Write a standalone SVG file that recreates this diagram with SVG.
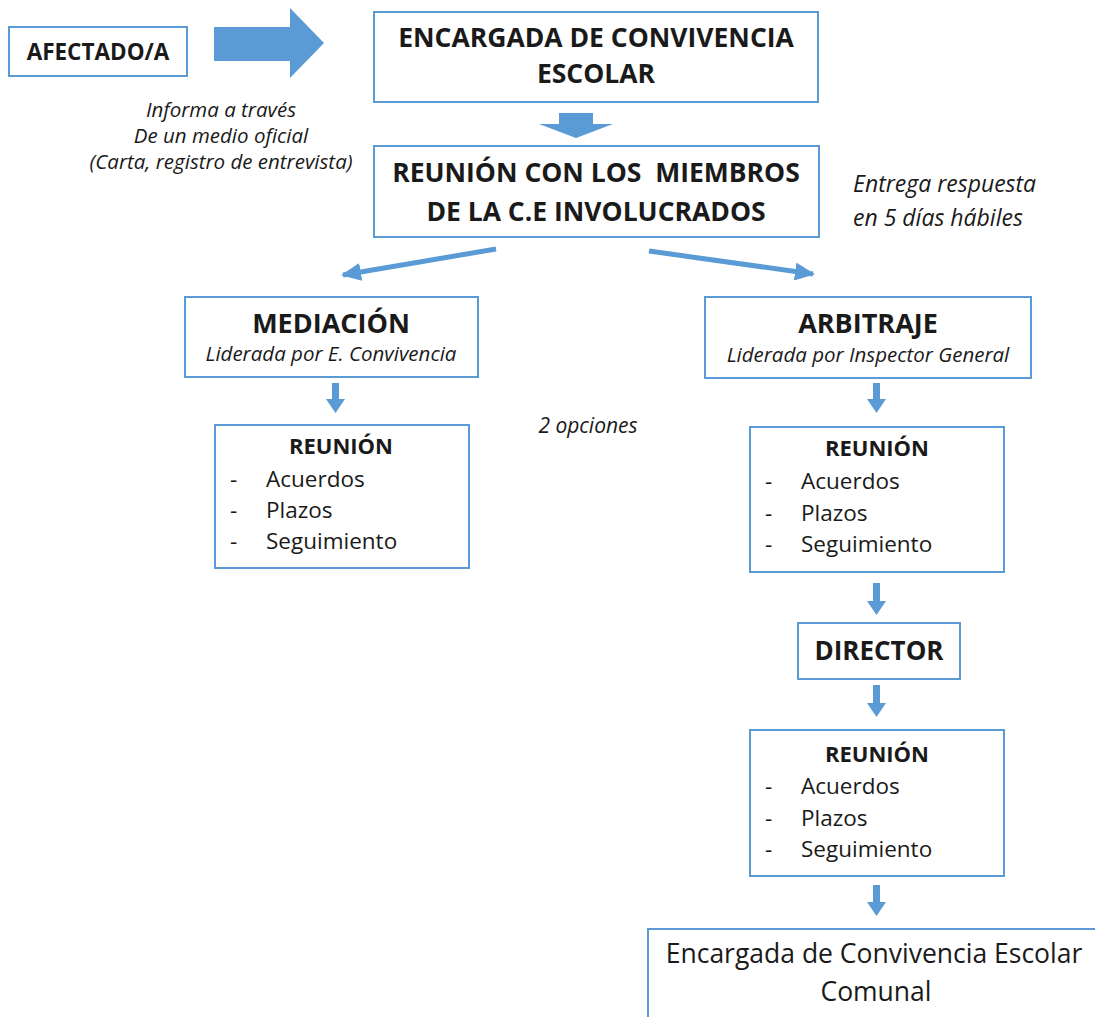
<svg xmlns="http://www.w3.org/2000/svg" width="1095" height="1017" viewBox="0 0 1095 1017">
<style>
.box{fill:#fff;stroke:#5b9bd5;stroke-width:2}
.t{font-family:"Open Sans","Noto Sans","Liberation Sans",sans-serif;fill:#1a1a1a}
.b{font-weight:bold}
.i{font-style:italic}
.c{text-anchor:middle}
.it{font-size:22.5px}
.arr{fill:#5b9bd5}
.ln{stroke:#5b9bd5;stroke-width:5;fill:none}
</style>
<defs>
<marker id="ah" markerUnits="userSpaceOnUse" markerWidth="22" markerHeight="18" refX="18" refY="9" orient="auto">
<path d="M0,0 L20,9 L0,18 Z" fill="#5b9bd5"/>
</marker>
</defs>
<rect width="1095" height="1017" fill="#fff"/>
<g id="afectado">
<rect class="box" x="9" y="27" width="178" height="49"/>
<text class="t b c" x="98" y="60" font-size="22.5">AFECTADO/A</text>
</g>
<g id="informa">
<text class="t i c" x="221" y="117" font-size="20.5">Informa a través</text>
<text class="t i c" x="221" y="143" font-size="20.5">De un medio oficial</text>
<text class="t i c" x="221" y="169" font-size="20.5">(Carta, registro de entrevista)</text>
</g>
<g id="encargada">
<rect class="box" x="374" y="12" width="444" height="90"/>
<text class="t b c" x="596" y="47" font-size="26.5">ENCARGADA DE CONVIVENCIA</text>
<text class="t b c" x="596" y="83" font-size="26.5">ESCOLAR</text>
</g>
<g id="reunion-ce">
<rect class="box" x="374" y="146" width="445" height="91"/>
<text class="t b c" x="596" y="182" font-size="26.5" xml:space="preserve" style="white-space:pre">REUNIÓN CON LOS  MIEMBROS</text>
<text class="t b c" x="596" y="221" font-size="26.5">DE LA C.E INVOLUCRADOS</text>
</g>
<g id="entrega">
<text class="t i" x="853" y="192" font-size="23">Entrega respuesta</text>
<text class="t i" x="853" y="226" font-size="23">en 5 días hábiles</text>
</g>
<g id="mediacion">
<rect class="box" x="185" y="297" width="293" height="80"/>
<text class="t b c" x="331" y="333" font-size="27">MEDIACIÓN</text>
<text class="t i c" x="331" y="361" font-size="20.5">Liderada por E. Convivencia</text>
</g>
<g id="arbitraje">
<rect class="box" x="705" y="297" width="326" height="81"/>
<text class="t b c" x="868" y="333" font-size="27">ARBITRAJE</text>
<text class="t i c" x="868" y="362" font-size="20.5">Liderada por Inspector General</text>
</g>
<g id="opciones">
<text class="t i c" x="588" y="433" font-size="21">2 opciones</text>
</g>
<g id="reunion-med">
<rect class="box" x="215" y="425" width="254" height="143"/>
<text class="t b c" x="341" y="454" font-size="22">REUNIÓN</text>
<text class="t" x="230" y="487" font-size="22.5">-</text>
<text class="t" x="266" y="487" font-size="22.5">Acuerdos</text>
<text class="t" x="230" y="518" font-size="22.5">-</text>
<text class="t" x="266" y="518" font-size="22.5">Plazos</text>
<text class="t" x="230" y="549" font-size="22.5">-</text>
<text class="t" x="266" y="549" font-size="22.5">Seguimiento</text>
</g>
<g id="reunion-arb">
<rect class="box" x="750" y="427" width="254" height="145"/>
<text class="t b c" x="877" y="456" font-size="22">REUNIÓN</text>
<text class="t" x="765" y="489" font-size="22.5">-</text>
<text class="t" x="801" y="489" font-size="22.5">Acuerdos</text>
<text class="t" x="765" y="521" font-size="22.5">-</text>
<text class="t" x="801" y="521" font-size="22.5">Plazos</text>
<text class="t" x="765" y="552" font-size="22.5">-</text>
<text class="t" x="801" y="552" font-size="22.5">Seguimiento</text>
</g>
<g id="director">
<rect class="box" x="798" y="623" width="162" height="56"/>
<text class="t b c" x="879" y="660" font-size="26">DIRECTOR</text>
</g>
<g id="reunion-dir">
<rect class="box" x="750" y="730" width="254" height="146"/>
<text class="t b c" x="877" y="762" font-size="22">REUNIÓN</text>
<text class="t" x="765" y="794" font-size="22.5">-</text>
<text class="t" x="801" y="794" font-size="22.5">Acuerdos</text>
<text class="t" x="765" y="826" font-size="22.5">-</text>
<text class="t" x="801" y="826" font-size="22.5">Plazos</text>
<text class="t" x="765" y="857" font-size="22.5">-</text>
<text class="t" x="801" y="857" font-size="22.5">Seguimiento</text>
</g>
<g id="comunal">
<rect class="box" x="648" y="929" width="460" height="100"/>
<text class="t c" x="874" y="963" font-size="26.5">Encargada de Convivencia Escolar</text>
<text class="t c" x="876" y="1001" font-size="26.5">Comunal</text>
</g>
<g id="connectors">
<polygon class="arr" points="214,27 290,27 290,8 324,43 290,78 290,61 214,61"/>
<polygon class="arr" points="559,113 593,113 593,124 613,124 576,138 539,124 559,124"/>
<line class="ln" x1="496" y1="249" x2="343" y2="275" marker-end="url(#ah)"/>
<line class="ln" x1="649" y1="251" x2="813" y2="274" marker-end="url(#ah)"/>
<polygon class="arr" points="332,383 339,383 339,399 345,399 335.5,413 326,399 332,399"/>
<polygon class="arr" points="873,383 880,383 880,399 886,399 876.5,413 867,399 873,399"/>
<polygon class="arr" points="873,583 880,583 880,601 886,601 876.5,615 867,601 873,601"/>
<polygon class="arr" points="873,685 880,685 880,703 886,703 876.5,717 867,703 873,703"/>
<polygon class="arr" points="873,885 880,885 880,902 886,902 876.5,916 867,902 873,902"/>
</g>
</svg>
